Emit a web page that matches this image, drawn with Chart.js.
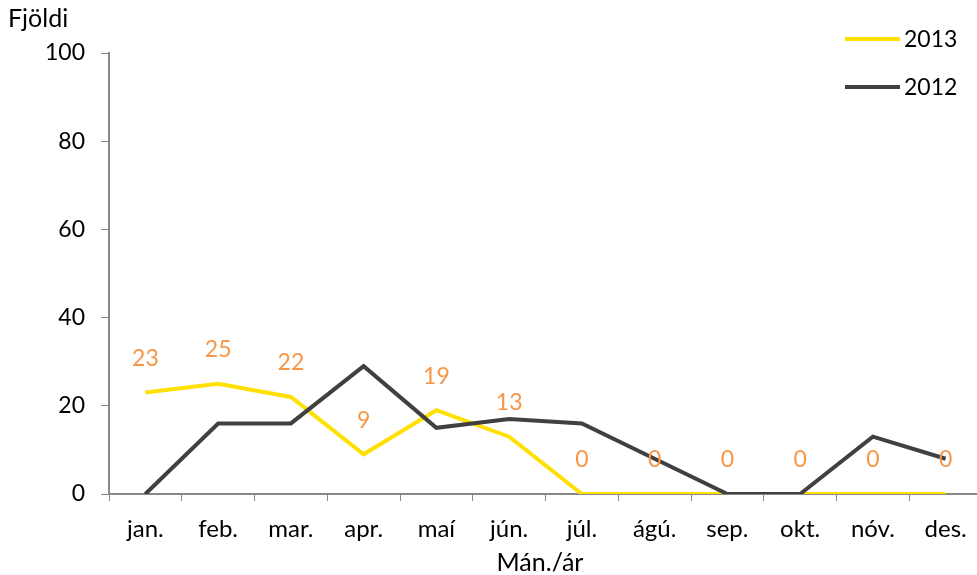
<!DOCTYPE html>
<html>
<head>
<meta charset="utf-8">
<script src="https://cdn.jsdelivr.net/npm/chart.js@4"></script>
<style>
  html, body { margin: 0; padding: 0; background: #fff; }
  #wrap { width: 977px; height: 575px; overflow: hidden; }
</style>
</head>
<body>
<div id="wrap"><canvas id="chart" width="984" height="575"></canvas></div>
<script>
// Months and counts per year
const months = ["jan.", "feb.", "mar.", "apr.", "maí", "jún.", "júl.", "ágú.", "sep.", "okt.", "nóv.", "des."];
const values2013 = [23, 25, 22, 9, 19, 13, 0, 0, 0, 0, 0, 0];
const values2012 = [0, 16, 16, 29, 15, 17, 16, 8, 0, 0, 13, 8];
const yTicks = [0, 20, 40, 60, 80, 100];

const FONT = "Lato, 'Open Sans', sans-serif";

// Draws value labels above the 2013 points, axis titles and the legend
const extras = {
    id: "extras",
    afterDatasetsDraw(chart) {
        const ctx = chart.ctx;
        ctx.save();

        // value labels for 2013
        const meta = chart.getDatasetMeta(0);
        ctx.font = "23px " + FONT;
        ctx.fillStyle = "#f79646";
        ctx.textAlign = "center";
        ctx.textBaseline = "middle";
        meta.data.forEach((pt, i) => {
            ctx.fillText(String(values2013[i]), pt.x, pt.y - 34);
        });

        // axis titles
        ctx.fillStyle = "#000";
        ctx.font = "25px " + FONT;
        ctx.fillText("Mán./ár", 540, 563);
        ctx.textAlign = "left";
        ctx.fillText("Fjöldi", 8, 19);

        // legend
        const items = [
            { label: "2013", color: chart.data.datasets[0].borderColor, y: 39 },
            { label: "2012", color: chart.data.datasets[1].borderColor, y: 87 }
        ];
        ctx.font = "23px " + FONT;
        items.forEach(it => {
            ctx.strokeStyle = it.color;
            ctx.lineWidth = 4;
            ctx.beginPath();
            ctx.moveTo(845, it.y);
            ctx.lineTo(900, it.y);
            ctx.stroke();
            ctx.fillStyle = "#000";
            ctx.fillText(it.label, 904, it.y + 1);
        });
        ctx.restore();
    }
};

new Chart(document.getElementById("chart"), {
    type: "line",
    data: {
        labels: months,
        datasets: [
            {
                label: "2013",
                data: values2013,
                borderColor: "#ffe000",
                borderWidth: 4,
                pointRadius: 0,
                tension: 0,
                order: 1
            },
            {
                label: "2012",
                data: values2012,
                borderColor: "#404040",
                borderWidth: 4,
                pointRadius: 0,
                tension: 0,
                order: 0
            }
        ]
    },
    options: {
        responsive: false,
        animation: false,
        layout: { padding: { top: 53, right: 2, left: 0, bottom: 0 } },
        plugins: {
            legend: { display: false },
            tooltip: { enabled: false }
        },
        scales: {
            x: {
                offset: true,
                grid: { offset: true, drawOnChartArea: false, drawTicks: true, tickLength: 7, color: "#888" },
                border: { color: "#888", width: 2 },
                ticks: { color: "#000", font: { family: FONT, size: 24 }, padding: 14, maxRotation: 0 },
                afterFit: s => { s.height = 81; }
            },
            y: {
                min: 0,
                max: 100,
                afterBuildTicks: s => { s.ticks = yTicks.map(v => ({ value: v })); },
                grid: { drawOnChartArea: false, drawTicks: true, tickLength: 8, color: "#888" },
                border: { color: "#888", width: 2 },
                ticks: { color: "#000", font: { family: FONT, size: 23 }, padding: 16 },
                afterFit: s => { s.width = 109; }
            }
        }
    },
    plugins: [extras]
});
</script>
</body>
</html>
